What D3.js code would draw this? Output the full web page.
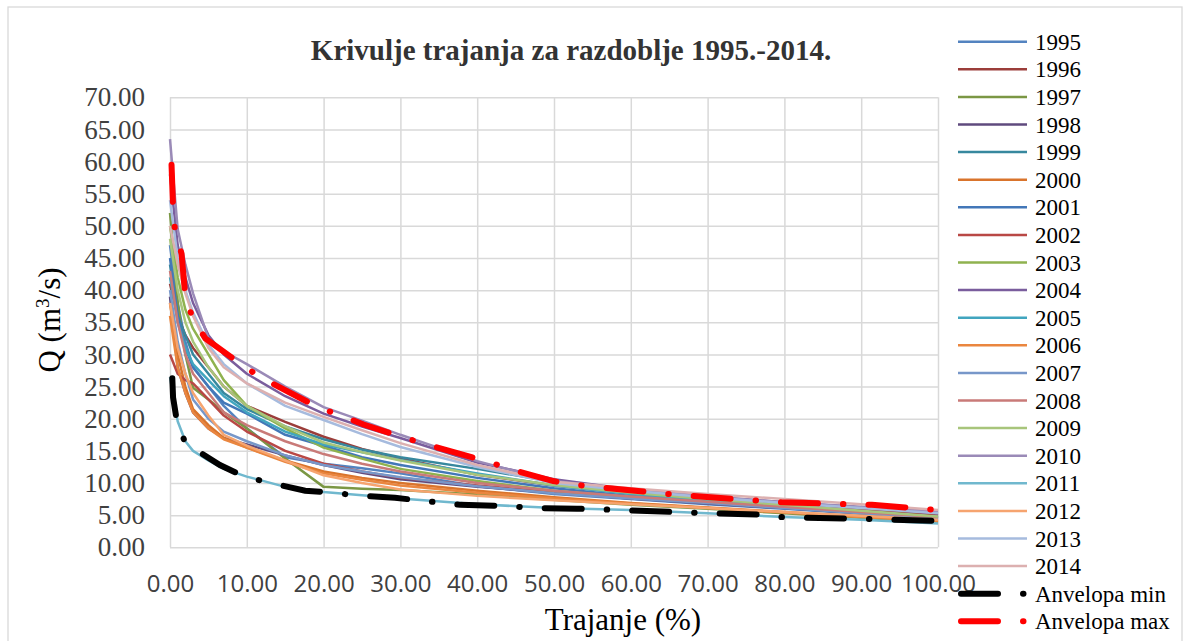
<!DOCTYPE html>
<html>
<head>
<meta charset="utf-8">
<script src="https://cdn.jsdelivr.net/npm/d3@7"></script>
<style>
  body { margin: 0; background: #fff; }
  svg { display: block; }
</style>
</head>
<body>
<div class="chart"></div>
<script>
// duration points (%) shared by the yearly curves
var durations = [0, 1, 2, 3, 5, 7, 10, 15, 20, 25, 30, 40, 50, 60, 70, 80, 90, 100];

var years = ["1995", "1996", "1997", "1998", "1999", "2000", "2001", "2002", "2003", "2004",
             "2005", "2006", "2007", "2008", "2009", "2010", "2011", "2012", "2013", "2014"];

var q1995 = [47, 38, 32, 28, 25, 22, 18.5, 14, 13, 12.3, 11.5, 9.5, 8.3, 7.5, 6.7, 6.0, 5.2, 4.4];
var q1996 = [41, 36, 33, 31, 28, 25, 22, 19.5, 17.2, 15.3, 13.8, 11.3, 9.6, 8.4, 7.5, 6.7, 5.9, 5.0];
var q1997 = [52, 38, 30, 24.8, 23, 21, 18.5, 13.8, 9.4, 9.1, 8.9, 8.2, 7.4, 6.6, 6.0, 5.3, 4.6, 3.9];
var q1998 = [39, 28, 24, 21, 18.5, 17, 16, 14.3, 12.8, 11.6, 10.6, 9.4, 8.5, 7.6, 6.8, 6.1, 5.3, 4.5];
var q1999 = [44, 36, 33, 30, 27, 24, 21.5, 18.8, 16.8, 15.2, 14, 12.2, 10.2, 8.7, 7.6, 6.6, 5.6, 4.7];
var q2000 = [38, 30, 25, 21.5, 19, 17, 15.5, 13.5, 11.8, 10.8, 10, 8.8, 7.8, 6.9, 6.2, 5.5, 4.8, 4.1];
var q2001 = [45, 36, 31, 28, 25, 22.5, 20.8, 17.5, 15.8, 14, 12.8, 10.8, 9.2, 8.0, 7.1, 6.3, 5.5, 4.7];
var q2002 = [30, 27, 26, 25.5, 23, 20.5, 18, 15, 13, 11.8, 10.8, 9.6, 8.6, 7.8, 7.0, 6.2, 5.4, 4.6];
var q2003 = [50, 42, 37, 34, 30, 26, 22, 18.5, 15.5, 13.8, 12.2, 10.3, 8.8, 7.8, 7.0, 6.2, 5.4, 4.5];
var q2004 = [58, 47, 42, 38, 33, 30, 27, 23.5, 20.8, 18.8, 17, 13.2, 10.6, 9.0, 7.9, 7.0, 6.2, 5.3];
var q2005 = [42, 35, 31, 28.5, 26, 23.5, 21, 18, 16, 14.8, 13.6, 11.5, 9.6, 8.3, 7.3, 6.4, 5.5, 4.6];
var q2006 = [36, 28, 24, 21, 18.5, 16.8, 15.5, 13.3, 11.5, 10.5, 9.6, 8.5, 7.6, 6.8, 6.1, 5.4, 4.7, 4.0];
var q2007 = [40, 32, 27, 23, 20, 18, 16.5, 14.3, 12.8, 11.8, 10.9, 9.5, 8.4, 7.6, 6.9, 6.1, 5.3, 4.5];
var q2008 = [43, 35, 30, 27, 24, 21, 19, 16.5, 14.5, 13, 11.8, 10, 8.8, 7.9, 7.1, 6.3, 5.5, 4.7];
var q2009 = [48, 40, 35, 32, 28, 25, 22, 18.8, 16.3, 14.8, 13.5, 11.3, 9.7, 8.5, 7.5, 6.6, 5.7, 4.8];
var q2010 = [63.5, 49.5, 44, 39.5, 32.5, 30.5, 28.5, 25, 21.8, 19.7, 17.5, 13.4, 10.3, 9.0, 7.9, 7.0, 6.3, 5.6];
var q2011 = [26.5, 19.6, 16.5, 15, 13.5, 12.2, 11, 9.4, 8.6, 8.1, 7.6, 6.7, 6.1, 5.8, 5.3, 4.7, 4.3, 3.7];
var q2012 = [38, 31, 27, 24, 20.5, 17.5, 15.8, 13.5, 11.2, 10, 9.0, 8.0, 7.3, 6.7, 6.1, 5.5, 4.9, 4.3];
var q2013 = [54, 45, 40, 36.5, 31.5, 28.5, 25.5, 22, 19.8, 17.6, 15.6, 12.5, 10.0, 8.8, 7.8, 6.9, 6.1, 5.3];
var q2014 = [50, 44, 39.5, 36, 31, 28, 25.5, 22.5, 20.3, 18.2, 16.2, 12.8, 10.2, 9.2, 8.3, 7.5, 6.7, 5.8];

// envelopes
var minX = [0.3, 0.4, 0.9, 2, 6.5, 9.5, 12.4, 17.6, 20.9, 24, 29.3, 37.8, 44.4, 47, 53, 56.1, 67.9, 76.8, 79.6, 91.4, 100];
var minQ = [26.3, 23.3, 19.6, 16.2, 12.8, 11.1, 10.2, 8.8, 8.55, 8.1, 7.7, 6.6, 6.4, 6.1, 6.0, 5.9, 5.4, 5.1, 4.7, 4.4, 4.1];
var maxX = [0.2, 0.4, 0.65, 1.5, 2.0, 3.0, 4.6, 9.1, 11.7, 19.4, 22.3, 25.2, 30.4, 33.4, 41.7, 44.7, 49.9, 53, 56.2, 64.8, 67.8, 79.6, 91.4, 100];
var maxQ = [59.5, 53, 49.2, 45.7, 39, 35.5, 32.5, 28.6, 26.5, 21.7, 20.5, 19.1, 17.1, 16.0, 13.2, 12.0, 10.3, 9.7, 9.3, 8.3, 8.0, 7.0, 6.6, 5.8];

var xTicks = [0, 10, 20, 30, 40, 50, 60, 70, 80, 90, 100];
var yTicks = [0, 5, 10, 15, 20, 25, 30, 35, 40, 45, 50, 55, 60, 65, 70];

var colors = ["#5383c0", "#9b3d3a", "#7b9744", "#5f4a7e", "#37889e", "#d9742c",
              "#4377b8", "#b94845", "#8fb24f", "#7a5d9d", "#41a5bf", "#ea863f",
              "#7797c9", "#c97a78", "#a8c57b", "#9a8ab7", "#70b8ce", "#f6a46f",
              "#a6bbde", "#dcb0b0"];

var qValues = [q1995, q1996, q1997, q1998, q1999, q2000, q2001, q2002, q2003, q2004,
               q2005, q2006, q2007, q2008, q2009, q2010, q2011, q2012, q2013, q2014];

var series = years.map(function(y, i) {
  return {name: y, color: colors[i], values: durations.map(function(d, j) { return [d, qValues[i][j]]; })};
});
var minEnv = minX.map(function(d, i) { return [d, minQ[i]]; });
var maxEnv = maxX.map(function(d, i) { return [d, maxQ[i]]; });

var W = 1184, H = 641;
var plot = {left: 170, right: 938, top: 97.3, bottom: 547.3};

var svg = d3.select(".chart").append("svg")
    .attr("width", W)
    .attr("height", H);

svg.append("rect")
    .attr("x", 8).attr("y", 7)
    .attr("width", 1174).attr("height", 650)
    .attr("fill", "#fff")
    .attr("stroke", "#d9d9d9")
    .attr("stroke-width", 1.3);

var x = d3.scaleLinear().domain([0, 100]).range([plot.left, plot.right]);
var y = d3.scaleLinear().domain([0, 70]).range([plot.bottom, plot.top]);

// grid + tick labels
var xAxis = svg.append("g")
    .attr("transform", "translate(0," + plot.bottom + ")")
    .call(d3.axisBottom(x).tickValues(xTicks).tickFormat(d3.format(".2f"))
      .tickSize(-(plot.bottom - plot.top)).tickPadding(28));
var yAxis = svg.append("g")
    .attr("transform", "translate(" + plot.left + ",0)")
    .call(d3.axisLeft(y).tickValues(yTicks).tickFormat(d3.format(".2f"))
      .tickSize(-(plot.right - plot.left)).tickPadding(25));

[xAxis, yAxis].forEach(function(a) {
  a.select(".domain").remove();
  a.selectAll("line").attr("stroke", "#d9d9d9").attr("stroke-width", 1.5);
});
xAxis.selectAll("text")
    .attr("font-family", "'Open Sans', sans-serif")
    .attr("font-size", 24)
    .attr("fill", "#404040");
yAxis.selectAll("text")
    .attr("font-family", "'Liberation Serif', serif")
    .attr("font-size", 27)
    .attr("fill", "#404040");

var line = d3.line()
    .x(function(d) { return x(d[0]); })
    .y(function(d) { return y(d[1]); });

svg.append("g").selectAll("path")
    .data(series)
  .enter().append("path")
    .attr("d", function(d) { return line(d.values); })
    .attr("fill", "none")
    .attr("stroke", function(d) { return d.color; })
    .attr("stroke-width", 2.5)
    .attr("stroke-linejoin", "round");

var dashes = "37,25,0.5,25";

svg.append("path")
    .attr("d", line(minEnv))
    .attr("fill", "none")
    .attr("stroke", "#000")
    .attr("stroke-width", 6)
    .attr("stroke-linecap", "round")
    .attr("stroke-dasharray", dashes);

svg.append("path")
    .attr("d", line(maxEnv))
    .attr("fill", "none")
    .attr("stroke", "#ff0000")
    .attr("stroke-width", 6)
    .attr("stroke-linecap", "round")
    .attr("stroke-dasharray", dashes);

// titles
svg.append("text")
    .attr("x", 571).attr("y", 60)
    .attr("text-anchor", "middle")
    .attr("font-family", "'Liberation Serif', serif")
    .attr("font-weight", "bold")
    .attr("font-size", 29)
    .attr("fill", "#333")
    .text("Krivulje trajanja za razdoblje 1995.-2014.");

svg.append("text")
    .attr("x", 623).attr("y", 630)
    .attr("text-anchor", "middle")
    .attr("font-family", "'Liberation Serif', serif")
    .attr("font-size", 31)
    .text("Trajanje (%)");

var yTitle = svg.append("text")
    .attr("transform", "translate(60,320) rotate(-90)")
    .attr("text-anchor", "middle")
    .attr("font-family", "'Liberation Serif', serif")
    .attr("font-size", 31);
yTitle.append("tspan").text("Q (m");
yTitle.append("tspan").attr("font-size", 19).attr("dy", -11).text("3");
yTitle.append("tspan").attr("dy", 11).text("/s)");

// legend
var legendItems = series.map(function(s) { return {name: s.name, color: s.color, w: 2.5, dash: null}; });
legendItems.push({name: "Anvelopa min", color: "#000", w: 6, dash: dashes});
legendItems.push({name: "Anvelopa max", color: "#ff0000", w: 6, dash: dashes});

var legend = svg.append("g").selectAll("g")
    .data(legendItems)
  .enter().append("g")
    .attr("transform", function(d, i) { return "translate(0," + (41.7 + i * 27.6) + ")"; });

legend.append("line")
    .attr("x1", function(d) { return d.dash ? 961 : 958; })
    .attr("x2", 1027)
    .attr("stroke", function(d) { return d.color; })
    .attr("stroke-width", function(d) { return d.w; })
    .attr("stroke-linecap", function(d) { return d.dash ? "round" : "butt"; })
    .attr("stroke-dasharray", function(d) { return d.dash; });

legend.append("text")
    .attr("x", 1035)
    .attr("y", 8)
    .attr("font-family", "'Liberation Serif', serif")
    .attr("font-size", 23)
    .text(function(d) { return d.name; });
</script>
</body>
</html>
